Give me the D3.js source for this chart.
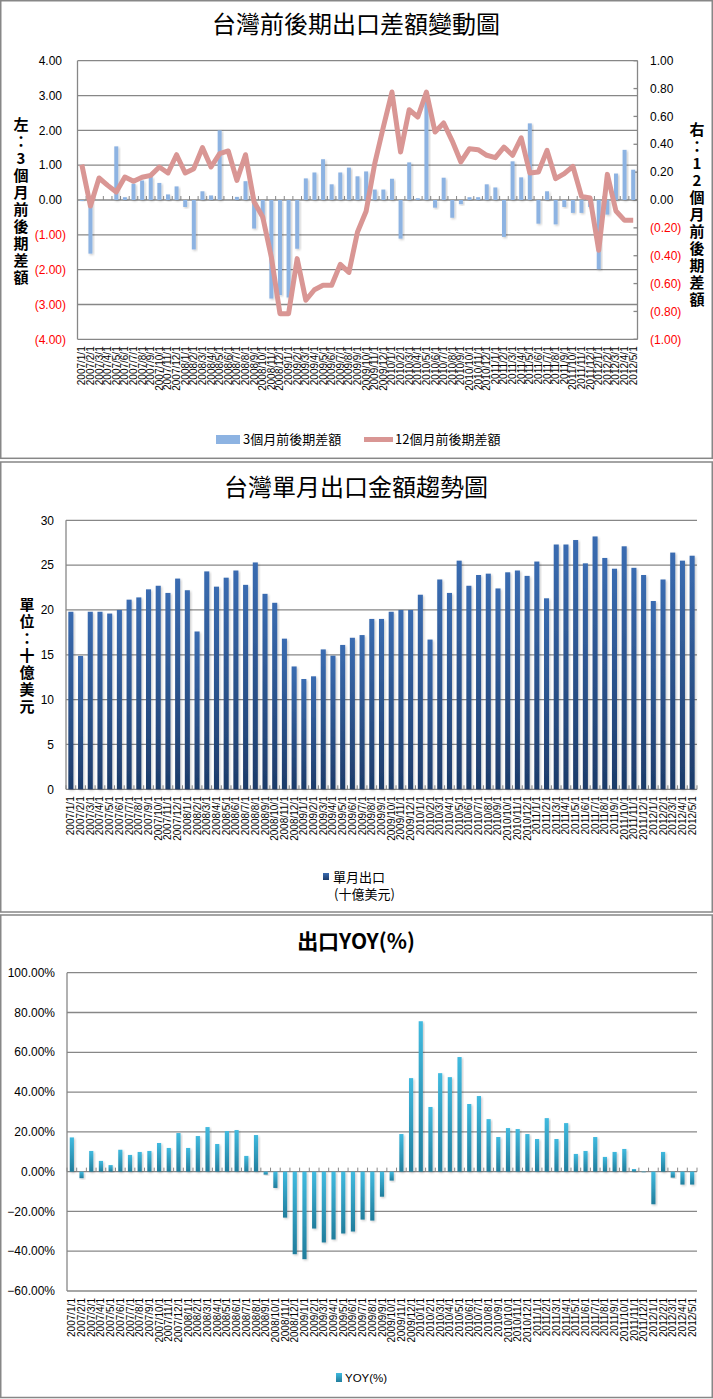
<!DOCTYPE html>
<html>
<head>
<meta charset="utf-8">
<script src="https://cdn.jsdelivr.net/npm/d3@7"></script>
<style>
body { margin: 0; background: #fff; }
text { font-family: "Liberation Sans", Arial, sans-serif; }
.cjk { font-family: "Noto Sans CJK TC", "Noto Sans CJK SC", sans-serif; }
.vtitle { writing-mode: vertical-rl; text-orientation: upright; }
</style>
</head>
<body>
<div id="chart"></div>
<script>
const months = [
    "2007/1/1","2007/2/1","2007/3/1","2007/4/1","2007/5/1","2007/6/1","2007/7/1","2007/8/1","2007/9/1","2007/10/1","2007/11/1","2007/12/1",
    "2008/1/1","2008/2/1","2008/3/1","2008/4/1","2008/5/1","2008/6/1","2008/7/1","2008/8/1","2008/9/1","2008/10/1","2008/11/1","2008/12/1",
    "2009/1/1","2009/2/1","2009/3/1","2009/4/1","2009/5/1","2009/6/1","2009/7/1","2009/8/1","2009/9/1","2009/10/1","2009/11/1","2009/12/1",
    "2010/1/1","2010/2/1","2010/3/1","2010/4/1","2010/5/1","2010/6/1","2010/7/1","2010/8/1","2010/9/1","2010/10/1","2010/11/1","2010/12/1",
    "2011/1/1","2011/2/1","2011/3/1","2011/4/1","2011/5/1","2011/6/1","2011/7/1","2011/8/1","2011/9/1","2011/10/1","2011/11/1","2011/12/1",
    "2012/1/1","2012/2/1","2012/3/1","2012/4/1","2012/5/1"
];

// 3個月前後期差額 (left axis)
const diff3m = [
    -0.03, -1.54, 0.0, 0.0, 1.54, 0.08, 0.47, 0.56, 0.66, 0.49, 0.16, 0.39,
    -0.2, -1.42, 0.25, 0.13, 2.0, 0.0, 0.09, 0.54, -0.82, -0.55, -2.83, -2.73,
    -2.8, -1.4, 0.62, 0.79, 1.17, 0.45, 0.79, 0.93, 0.68, 0.82, 0.30, 0.30,
    0.61, -1.11, 1.08, 0.05, 2.86, -0.22, 0.64, -0.51, -0.12, 0.08, 0.08, 0.45,
    0.36, -1.06, 1.11, 0.65, 2.2, -0.68, 0.25, -0.70, -0.20, -0.37, -0.37, -0.2,
    -1.99, -0.42, 0.76, 1.44, 0.87
];

// 12個月前後期差額 (right axis)
const diff12m = [
    0.254, -0.043, 0.158, 0.105, 0.057, 0.165, 0.134, 0.163, 0.177, 0.237, 0.194, 0.325,
    0.194, 0.225, 0.376, 0.237, 0.333, 0.352, 0.141, 0.325, -0.014, -0.122, -0.41, -0.816,
    -0.816, -0.421, -0.72, -0.644, -0.612, -0.612, -0.462, -0.52, -0.23, -0.081, 0.261, 0.524,
    0.775, 0.344, 0.648, 0.596, 0.775, 0.488, 0.553, 0.423, 0.273, 0.368, 0.361, 0.321,
    0.304, 0.380, 0.321, 0.447, 0.194, 0.201, 0.356, 0.153, 0.189, 0.242, 0.026, 0.014,
    -0.361, 0.184, -0.079, -0.146, -0.146
];

// 單月出口 (十億美元)
const exportsBn = [
    19.8, 14.87, 19.8, 19.8, 19.6, 20.0, 21.15, 21.4, 22.3, 22.7, 21.9, 23.5,
    22.2, 17.6, 24.3, 22.6, 23.6, 24.4, 22.8, 25.3, 21.8, 20.8, 16.8, 13.7,
    12.3, 12.6, 15.6, 14.9, 16.1, 16.9, 17.2, 19.0, 19.0, 19.8, 20.0, 20.0,
    21.7, 16.7, 23.4, 21.9, 25.5, 22.7, 23.9, 24.05, 22.4, 24.2, 24.4, 23.8,
    25.4, 21.3, 27.3, 27.3, 27.8, 25.2, 28.2, 25.8, 24.6, 27.1, 24.7, 23.9,
    21.0, 23.4, 26.4, 25.5, 26.05
];

// YOY (%)
const yoyPct = [
    17.2, -3.3, 10.4, 5.4, 3.3, 11.0, 8.4, 9.9, 10.4, 14.4, 11.9, 19.4,
    11.9, 17.9, 22.4, 13.9, 20.4, 20.9, 7.9, 18.4, -1.5, -8.2, -23.1, -41.5,
    -44.0, -28.6, -35.6, -34.1, -31.1, -30.1, -24.1, -24.6, -12.6, -4.5, 18.9, 47.0,
    75.6, 32.5, 49.5, 47.5, 57.6, 34.0, 38.0, 26.4, 17.4, 21.9, 21.4, 18.9,
    16.4, 26.9, 16.4, 24.4, 8.9, 10.4, 17.4, 7.4, 9.9, 11.4, 1.3, -0.3,
    -16.4, 9.9, -3.0, -6.5, -6.5
];

const leftTicks = [4, 3, 2, 1, 0, -1, -2, -3, -4];
const rightTicks = [1, 0.8, 0.6, 0.4, 0.2, 0, -0.2, -0.4, -0.6, -0.8, -1];
const exportTicks = [0, 5, 10, 15, 20, 25, 30];
const yoyTicks = [100, 80, 60, 40, 20, 0, -20, -40, -60];

const GRID = "#878787";
const svg = d3.select("#chart").append("svg")
    .attr("width", 713)
    .attr("height", 1399);

const defs = svg.append("defs");

const shadow = defs.append("filter").attr("id", "shadow")
    .attr("x", "-50%").attr("y", "-10%").attr("width", "200%").attr("height", "130%");
shadow.append("feDropShadow")
    .attr("dx", 1.2).attr("dy", 1.2).attr("stdDeviation", 0.8)
    .attr("flood-color", "#000").attr("flood-opacity", 0.22);

const exportGrad = defs.append("linearGradient").attr("id", "exportGrad")
    .attr("x1", 0).attr("y1", 0).attr("x2", 0).attr("y2", 1);
exportGrad.append("stop").attr("offset", "0%").attr("stop-color", "#3a6cb1");
exportGrad.append("stop").attr("offset", "100%").attr("stop-color", "#1d3b69");

const yoyGrad = defs.append("linearGradient").attr("id", "yoyGrad")
    .attr("x1", 0).attr("y1", 0).attr("x2", 0).attr("y2", 1);
yoyGrad.append("stop").attr("offset", "0%").attr("stop-color", "#40badf");
yoyGrad.append("stop").attr("offset", "100%").attr("stop-color", "#217d9c");

function panelFrame(y0, y1) {
    svg.append("rect")
        .attr("x", 0.75).attr("y", y0)
        .attr("width", 711.5).attr("height", y1 - y0)
        .attr("fill", "#fff")
        .attr("stroke", GRID)
        .attr("stroke-width", 1.5);
}

function title(text, cx, cy, size, weight) {
    svg.append("text")
        .attr("class", "cjk")
        .attr("x", cx).attr("y", cy)
        .attr("text-anchor", "middle")
        .attr("dy", "0.35em")
        .attr("font-size", size)
        .attr("font-weight", weight)
        .text(text);
}

// vertical axis title, upright characters stacked top to bottom
function verticalTitle(text, x, yTop) {
    svg.append("text")
        .attr("class", "cjk vtitle")
        .attr("x", x)
        .attr("y", yTop)
        .attr("font-size", 15)
        .attr("font-weight", "bold")
        .attr("letter-spacing", 2)
        .text(text);
}

function bandScale(left, right, padding) {
    return d3.scaleBand()
        .domain(months)
        .range([left, right])
        .paddingInner(padding)
        .paddingOuter(padding / 2);
}

function categoryLabels(x, yBottom) {
    const g = svg.append("g")
        .attr("transform", `translate(0,${yBottom})`)
        .call(d3.axisBottom(x).tickSize(0));
    g.select(".domain").remove();
    g.selectAll("text")
        .attr("transform", "rotate(-90)")
        .attr("text-anchor", "end")
        .attr("x", -7)
        .attr("y", 0)
        .attr("dy", "0.35em")
        .attr("font-size", 10)
        .attr("font-family", "'Liberation Sans', Arial, sans-serif")
        .attr("fill", "#000");
}

// small marks at the category boundaries
function boundaryTicks(x, yLine) {
    const half = x.step() * x.paddingInner() / 2;
    const edges = months.map(m => x(m) - half).concat([x(months[months.length - 1]) + x.bandwidth() + half]);
    svg.append("g").selectAll("line")
        .data(edges)
        .join("line")
        .attr("x1", d => d).attr("x2", d => d)
        .attr("y1", yLine - 4).attr("y2", yLine)
        .attr("stroke", GRID)
        .attr("stroke-width", 1);
}

function gridlines(y, ticks, x1, x2) {
    svg.append("g").selectAll("line")
        .data(ticks)
        .join("line")
        .attr("x1", x1).attr("x2", x2)
        .attr("y1", d => y(d)).attr("y2", d => y(d))
        .attr("stroke", GRID)
        .attr("stroke-width", 1.3);
}

function valueLabels(y, ticks, x, anchor, fmt, color) {
    svg.append("g").selectAll("text")
        .data(ticks)
        .join("text")
        .attr("x", d => typeof x === "function" ? x(d) : x)
        .attr("y", d => y(d))
        .attr("dy", "0.35em")
        .attr("text-anchor", anchor)
        .attr("font-size", 12)
        .attr("fill", color)
        .text(fmt);
}

/* ---------- panel 1: 台灣前後期出口差額變動圖 ---------- */
function drawDiffChart() {
    const left = 77.5, right = 637.5, top = 60.7, bottom = 339.3;
    panelFrame(0.75, 458.3);
    title("台灣前後期出口差額變動圖", 356, 25, 24, "normal");

    const x = bandScale(left, right, 0.54);
    const yL = d3.scaleLinear().domain([-4, 4]).range([bottom, top]);
    const yR = d3.scaleLinear().domain([-1, 1]).range([bottom, top]);

    gridlines(yL, leftTicks, left, right);
    svg.append("line").attr("x1", left).attr("x2", left).attr("y1", top).attr("y2", bottom)
        .attr("stroke", GRID).attr("stroke-width", 1.3);
    svg.append("line").attr("x1", right).attr("x2", right).attr("y1", top).attr("y2", bottom)
        .attr("stroke", GRID).attr("stroke-width", 1.3);
    svg.append("g").selectAll("line")
        .data(rightTicks)
        .join("line")
        .attr("x1", right - 4).attr("x2", right)
        .attr("y1", d => yR(d)).attr("y2", d => yR(d))
        .attr("stroke", GRID).attr("stroke-width", 1.3);

    const f2 = d3.format(".2f");
    const acct = d => d < 0 ? `(${f2(-d)})` : f2(d);
    valueLabels(yL, leftTicks, d => d < 0 ? 66 : 62, "end", acct, d => d < 0 ? "#ff0000" : "#000");
    valueLabels(yR, rightTicks, 650, "start", acct, d => d < 0 ? "#ff0000" : "#000");

    verticalTitle("左：3個月前後期差額", 21, 117);
    verticalTitle("右：12個月前後期差額", 697, 122);

    boundaryTicks(x, yL(0));

    svg.append("g").selectAll("rect")
        .data(diff3m)
        .join("rect")
        .attr("x", (d, i) => x(months[i]))
        .attr("y", d => yL(Math.max(0, d)))
        .attr("width", x.bandwidth())
        .attr("height", d => Math.abs(yL(d) - yL(0)))
        .attr("fill", "#8db3e2")
        .attr("filter", "url(#shadow)");

    const line = d3.line()
        .x((d, i) => x(months[i]) + x.bandwidth() / 2)
        .y(d => yR(d));
    svg.append("path")
        .datum(diff12m)
        .attr("d", line)
        .attr("fill", "none")
        .attr("stroke", "#d99694")
        .attr("stroke-width", 5)
        .attr("stroke-linejoin", "round");

    categoryLabels(x, bottom);

    // legend
    const lg = svg.append("g");
    lg.append("rect").attr("x", 216).attr("y", 435).attr("width", 24).attr("height", 9).attr("fill", "#8db3e2");
    lg.append("text").attr("class", "cjk").attr("x", 243).attr("y", 439.5).attr("dy", "0.35em")
        .attr("font-size", 13).text("3個月前後期差額");
    lg.append("line").attr("x1", 364).attr("x2", 393).attr("y1", 439.5).attr("y2", 439.5)
        .attr("stroke", "#d99694").attr("stroke-width", 5);
    lg.append("text").attr("class", "cjk").attr("x", 395).attr("y", 439.5).attr("dy", "0.35em")
        .attr("font-size", 13).text("12個月前後期差額");
}

/* ---------- panel 2: 台灣單月出口金額趨勢圖 ---------- */
function drawExportChart() {
    const left = 66, right = 697, top = 520.3, bottom = 789.3;
    panelFrame(462, 912);
    title("台灣單月出口金額趨勢圖", 356, 488, 24, "normal");

    const x = bandScale(left, right, 0.48);
    const y = d3.scaleLinear().domain([0, 30]).range([bottom, top]);

    gridlines(y, exportTicks, left, right);
    svg.append("line").attr("x1", left).attr("x2", left).attr("y1", top).attr("y2", bottom)
        .attr("stroke", GRID).attr("stroke-width", 1.3);
    valueLabels(y, exportTicks, 54, "end", d => d, "#000");
    verticalTitle("單位：十億美元", 27, 597);

    boundaryTicks(x, bottom);

    svg.append("g").selectAll("rect")
        .data(exportsBn)
        .join("rect")
        .attr("x", (d, i) => x(months[i]))
        .attr("y", d => y(d))
        .attr("width", x.bandwidth())
        .attr("height", d => y(0) - y(d))
        .attr("fill", "url(#exportGrad)")
        .attr("filter", "url(#shadow)");

    categoryLabels(x, bottom);

    const lg = svg.append("g");
    lg.append("rect").attr("x", 323).attr("y", 873).attr("width", 6).attr("height", 7).attr("fill", "url(#exportGrad)");
    lg.append("text").attr("class", "cjk").attr("x", 333).attr("y", 877).attr("dy", "0.35em")
        .attr("font-size", 13).text("單月出口");
    lg.append("text").attr("class", "cjk").attr("x", 334).attr("y", 894).attr("dy", "0.35em")
        .attr("font-size", 13).text("(十億美元)");
}

/* ---------- panel 3: 出口YOY(%) ---------- */
function drawYoyChart() {
    const left = 67, right = 697, top = 972.7, bottom = 1291;
    panelFrame(915, 1397.5);
    title("出口YOY(%)", 356, 942, 21, "bold");

    const x = bandScale(left, right, 0.57);
    const y = d3.scaleLinear().domain([-60, 100]).range([bottom, top]);

    gridlines(y, yoyTicks, left, right);
    svg.append("line").attr("x1", left).attr("x2", left).attr("y1", top).attr("y2", bottom)
        .attr("stroke", GRID).attr("stroke-width", 1.3);
    valueLabels(y, yoyTicks, 55, "end", d => d3.format(".2f")(d) + "%", "#000");

    boundaryTicks(x, y(0));

    svg.append("g").selectAll("rect")
        .data(yoyPct)
        .join("rect")
        .attr("x", (d, i) => x(months[i]))
        .attr("y", d => y(Math.max(0, d)))
        .attr("width", x.bandwidth())
        .attr("height", d => Math.abs(y(d) - y(0)))
        .attr("fill", "url(#yoyGrad)")
        .attr("filter", "url(#shadow)");

    categoryLabels(x, bottom);

    const lg = svg.append("g");
    lg.append("rect").attr("x", 336).attr("y", 1373).attr("width", 6).attr("height", 9).attr("fill", "url(#yoyGrad)");
    lg.append("text").attr("x", 345).attr("y", 1378).attr("dy", "0.35em")
        .attr("font-size", 11.5).text("YOY(%)");
}

drawDiffChart();
drawExportChart();
drawYoyChart();
</script>
</body>
</html>
